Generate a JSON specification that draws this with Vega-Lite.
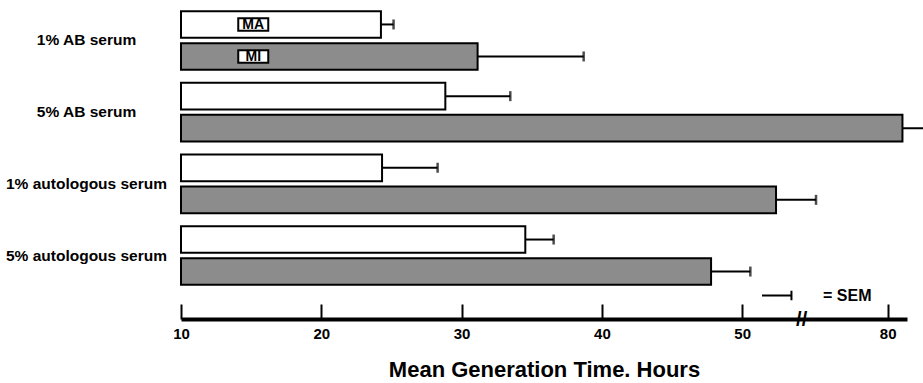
{
  "$schema": "https://vega.github.io/schema/vega-lite/v6.json",
  "width": 726,
  "height": 288,
  "autosize": {"type": "none"},
  "padding": {"left": 181, "top": 4, "right": 16, "bottom": 91},
  "background": "white",
  "config": {"view": {"stroke": null}, "font": "Liberation Sans"},
  "data": {
    "values": [
      {"condition": "1% AB serum", "cell": "MA", "hours": 24.25, "upper": 25.15},
      {"condition": "1% AB serum", "cell": "MI", "hours": 31.14, "upper": 38.7},
      {"condition": "5% AB serum", "cell": "MA", "hours": 28.84, "upper": 33.47},
      {"condition": "5% AB serum", "cell": "MI", "hours": 81.07, "upper": 84.0},
      {"condition": "1% autologous serum", "cell": "MA", "hours": 24.33, "upper": 28.29},
      {"condition": "1% autologous serum", "cell": "MI", "hours": 52.41, "upper": 55.26},
      {"condition": "5% autologous serum", "cell": "MA", "hours": 34.54, "upper": 36.56},
      {"condition": "5% autologous serum", "cell": "MI", "hours": 47.78, "upper": 50.58}
    ]
  },
  "encoding": {
    "y": {
      "field": "condition",
      "type": "nominal",
      "sort": ["1% AB serum", "5% AB serum", "1% autologous serum", "5% autologous serum"],
      "scale": {"paddingInner": 0.183, "paddingOuter": 0.1},
      "axis": {
        "title": null,
        "domain": false,
        "ticks": false,
        "labelAlign": "center",
        "labelPadding": 95,
        "labelFontSize": 15.5,
        "labelFontWeight": "bold",
        "labelColor": "black",
        "labelLimit": 300
      }
    },
    "yOffset": {
      "field": "cell",
      "type": "nominal",
      "sort": ["MA", "MI"],
      "scale": {"paddingInner": 0.17}
    }
  },
  "layer": [
    {
      "mark": {"type": "bar", "stroke": "black", "strokeWidth": 2},
      "encoding": {
        "x": {
          "field": "hours",
          "type": "quantitative",
          "scale": {"domain": [10, 56, 80, 81.4], "range": [0, 645.4, 706.7, 726], "zero": false, "nice": false},
          "axis": {
            "title": "Mean Generation Time. Hours",
            "values": [10, 20, 30, 40, 50, 54.2, 80],
            "labelExpr": "datum.value == 54.2 ? '//' : datum.label",
            "offset": 27,
            "grid": false,
            "domainWidth": 4,
            "domainColor": "black",
            "tickSize": -15,
            "tickWidth": 2,
            "tickColor": "black",
            "tickOpacity": {"condition": {"test": "datum.value == 54.2", "value": 0}, "value": 1},
            "labelFontSize": {"condition": {"test": "datum.value == 54.2", "value": 20}, "value": 15},
            "labelBaseline": {"condition": {"test": "datum.value == 54.2", "value": "middle"}, "value": "top"},
            "labelPadding": {"condition": {"test": "datum.value == 54.2", "value": 15}, "value": 22},
            "labelFontWeight": "bold",
            "labelColor": "black",
            "labelFlush": false,
            "labelOverlap": false,
            "titleFontSize": 22,
            "titleFontWeight": "bold",
            "titleColor": "black",
            "titlePadding": 18
          }
        },
        "x2": {"datum": 10},
        "fill": {
          "field": "cell",
          "type": "nominal",
          "scale": {"domain": ["MA", "MI"], "range": ["white", "#8c8c8c"]},
          "legend": null
        }
      }
    },
    {
      "mark": {"type": "rule", "strokeWidth": 2},
      "encoding": {
        "x": {"field": "hours", "type": "quantitative"},
        "x2": {"field": "upper"},
        "stroke": {
          "datum": "= SEM",
          "type": "nominal",
          "scale": {"range": ["black"]},
          "legend": {
            "orient": "none",
            "legendX": 580,
            "legendY": 275,
            "title": null,
            "padding": 0,
            "symbolType": "M-1,0H0.9M0.9,-0.3V0.3",
            "symbolSize": 961,
            "symbolStrokeWidth": 2,
            "symbolStrokeColor": "black",
            "labelFontSize": 16,
            "labelFontWeight": "bold",
            "labelColor": "black",
            "labelOffset": 29
          }
        }
      }
    },
    {
      "mark": {"type": "tick", "thickness": 2.5, "size": 10, "color": "black"},
      "encoding": {
        "x": {"field": "upper", "type": "quantitative"}
      }
    },
    {
      "transform": [{"filter": "datum.condition == '1% AB serum'"}],
      "mark": {"type": "point", "shape": "M-1,-0.42H1V0.42H-1Z", "size": 900, "filled": true, "fill": "white", "stroke": "black", "strokeWidth": 2, "opacity": 1},
      "encoding": {
        "x": {"datum": 15.15}
      }
    },
    {
      "transform": [{"filter": "datum.condition == '1% AB serum'"}],
      "mark": {"type": "text", "fontWeight": "bold", "fontSize": 14, "baseline": "middle", "align": "center", "color": "black", "dy": 1},
      "encoding": {
        "x": {"datum": 15.15},
        "text": {"field": "cell"}
      }
    }
  ]
}
